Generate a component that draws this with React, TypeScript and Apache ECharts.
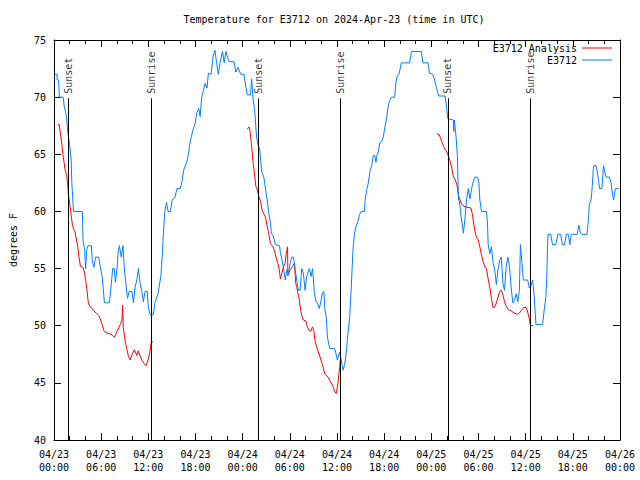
import React, { useEffect, useRef } from "react";
import * as echarts from "echarts";

const FONT = "'DejaVu Sans Mono', 'Liberation Mono', monospace";

const chartTitle = "Temperature for E3712 on 2024-Apr-23 (time in UTC)";
const obsName = "E3712";
const anaName = "E3712 Analysis";

// hours since 2024-04-23 00:00 UTC, temperature (F)
const observed: number[][] = [
  [0.04,72],[0.38,72],[0.40,71.5],[0.59,71.5],[0.62,71],[0.67,71],[0.69,70],[1.17,70],[1.30,69.2],[1.51,68.6],[1.64,68],[1.72,67.1],[1.85,66.5],[2.01,65.7],[2.18,64.5],[2.27,62.5],[2.48,60],[3.61,60],[3.69,57.5],[3.90,56.6],[4.03,55],[4.15,56.6],[4.32,57],[4.75,57],[4.87,55.7],[5.07,55.1],[5.29,56],[5.70,56],[5.92,55],[6.13,54.3],[6.33,52.7],[6.42,52],[7.05,52],[7.26,53.4],[7.46,55],[7.68,55],[7.80,53.8],[8.02,55],[8.14,56.3],[8.31,57],[8.56,56],[8.77,57],[8.94,55.1],[9.19,53.4],[9.35,52.4],[9.57,53],[9.91,53],[10.11,52],[10.32,53.4],[10.54,54],[10.74,55],[10.95,53.7],[11.17,53],[11.37,52.1],[11.58,53],[11.87,53],[12.00,51.6],[12.21,51],[12.63,51],[12.84,52],[13.26,52.9],[13.60,54.4],[13.76,56],[13.94,58.4],[14.10,60],[14.31,60.8],[14.51,60],[14.82,60],[15.02,61],[15.36,61.2],[15.65,62],[16.07,62],[16.28,62.6],[16.49,63.6],[16.70,64],[16.91,64.4],[17.12,65.1],[17.25,65.8],[17.46,66.5],[17.66,67.1],[17.96,67.7],[18.16,68.6],[18.42,69],[18.59,68.3],[18.79,70],[19.01,70.6],[19.22,71.2],[19.47,70.8],[19.64,72.1],[19.98,72],[20.27,73.7],[20.48,74.1],[20.68,73],[20.90,72],[21.11,73],[21.44,74],[21.65,73],[21.87,74],[22.07,73.5],[22.28,73.1],[22.91,73.1],[23.12,72.2],[23.41,72.6],[23.75,72],[24.17,72],[24.38,71],[24.58,70.2],[25.01,70.2],[25.14,71.6],[25.30,70],[25.52,68.9],[25.77,66.5],[25.97,65.8],[26.18,65.4],[26.40,63.5],[26.69,63],[26.90,62],[27.10,61.1],[27.31,59.9],[27.53,59],[27.65,58.1],[27.86,57.9],[28.03,57.5],[28.16,57.1],[28.70,57],[28.79,56.4],[28.99,55.8],[29.20,55],[29.42,54],[29.62,54.9],[29.83,54.6],[30.05,55.5],[30.25,56],[30.46,56],[30.68,54.9],[30.88,54],[31.09,53.1],[31.31,53.1],[31.51,55],[31.72,54.6],[31.94,53.1],[32.14,54.3],[32.48,55],[32.69,54.3],[32.89,55],[33.11,53],[33.32,52.1],[33.52,52],[33.74,51.5],[33.95,52.1],[34.15,52.9],[34.33,53],[34.45,51.5],[34.66,50.6],[34.78,49],[35.08,48],[35.71,48],[35.92,47.4],[36.04,47],[36.34,47.7],[36.54,47],[36.76,46.1],[36.97,46.6],[37.17,47.6],[37.39,49.3],[37.60,50.6],[37.80,53.1],[38.02,56.5],[38.23,58.1],[38.43,58.7],[38.65,59.1],[38.86,59.7],[39.06,60],[39.49,60],[39.56,60.9],[39.78,61.9],[39.99,62.5],[40.19,63.5],[40.41,64],[40.62,64.9],[40.82,64.9],[40.95,64.3],[41.08,64.9],[41.25,65.2],[41.45,66],[41.67,66.1],[41.88,66.5],[42.08,67.3],[42.30,68.1],[42.51,69.2],[42.71,69.7],[42.93,70],[43.34,70],[43.47,71.2],[43.68,71.9],[43.89,72],[44.18,73],[45.23,73],[45.48,74],[46.74,74],[46.92,73],[47.58,73],[47.75,72.1],[48.17,72],[48.38,71.6],[48.59,71],[48.93,70.1],[49.76,70.1],[49.97,68.9],[50.10,68.1],[50.82,68],[50.86,67],[50.92,68],[51.15,66.5],[51.32,64.8],[51.45,61],[51.57,60.9],[51.78,59.6],[52.08,58.1],[52.28,59.4],[52.49,61.1],[52.70,62],[52.91,61.1],[53.12,62],[53.34,62.6],[53.54,63],[53.88,63],[54.04,62.6],[54.17,61],[54.38,60],[55.01,60],[55.14,59],[55.23,57.1],[55.43,56.3],[55.64,56.9],[55.86,55.5],[56.06,54.9],[56.27,53.6],[56.48,54.9],[56.69,55.7],[56.90,56],[57.11,53.7],[57.31,53.1],[57.53,55.2],[57.74,56],[57.94,55.2],[58.16,53.3],[58.37,52],[58.57,52.2],[58.79,52.8],[59.00,52.1],[59.20,53.1],[59.33,57.1],[59.50,55.7],[59.71,54],[60.26,54],[60.46,53.3],[60.68,53.5],[60.89,54],[61.09,52.5],[61.31,50.1],[62.15,50.1],[62.36,51.4],[62.57,52.5],[62.69,54.4],[62.78,56.8],[62.85,58],[63.19,58],[63.41,57.1],[63.82,57.1],[64.11,58],[64.45,58],[64.67,57.1],[64.95,57.1],[65.17,58],[65.42,58],[65.62,57.1],[65.80,58],[66.56,58],[66.76,58.8],[66.97,58.1],[67.18,58],[67.81,58],[68.02,59.6],[68.10,60.6],[68.32,61],[68.44,61.9],[68.57,63.3],[68.64,64],[68.95,64],[69.07,63.6],[69.27,62.7],[69.40,62],[69.70,62],[69.83,63.2],[69.90,64],[70.12,63.3],[70.24,63],[70.66,63],[70.86,62.5],[71.06,61.4],[71.19,61],[71.40,62],[71.82,62]
];

const analysisNight1: number[][] = [
  [0.47,67.6],[0.67,67.6],[0.76,67.1],[0.88,66.5],[1.01,65.8],[1.17,64.8],[1.30,64.2],[1.42,63.6],[1.60,63.2],[1.72,62.5],[1.85,61.4],[2.01,60.6],[2.18,59.7],[2.35,58.8],[2.52,58.4],[2.68,58.2],[2.86,57.5],[3.02,56.9],[3.18,56],[3.36,55.2],[3.69,55.1],[3.86,54.7],[4.03,54],[4.19,53.1],[4.37,52],[4.53,51.7],[4.87,51.5],[5.20,51.2],[5.38,51.1],[5.70,50.9],[5.92,50.5],[6.13,50.1],[6.33,49.6],[6.55,49.4],[7.05,49.3],[7.39,49.2],[7.68,49],[8.02,49.5],[8.43,50.1],[8.65,50.5],[8.72,51.8],[8.81,49.9],[9.06,48.6],[9.28,47.9],[9.48,47.3],[9.69,47.0],[9.94,47.5],[10.23,47.9],[10.54,47.4],[10.70,47.8],[11.17,47.0],[11.46,46.7],[11.71,46.5],[11.96,47],[12.21,47.7],[12.34,48.5],[12.59,48.6]
];

const analysisNight2: number[][] = [
  [24.58,67.2],[24.80,67.4],[24.92,67.1],[25.09,66.1],[25.21,65.2],[25.34,64.2],[25.52,63.2],[25.68,62.2],[25.85,61.9],[26.06,61.3],[26.27,60.9],[26.47,60.1],[26.69,59.8],[26.90,59.5],[27.10,58.8],[27.31,58.1],[27.53,57.2],[27.86,56.9],[28.03,56.6],[28.24,56],[28.45,55.5],[28.66,54.9],[28.79,54.1],[28.99,54.6],[29.20,55.2],[29.42,55.5],[29.54,56.3],[29.71,56.9],[29.75,54.4],[30.05,54.9],[30.38,55.2],[30.59,55.5],[30.75,53.7],[30.88,53.4],[30.97,53],[31.18,52.4],[31.31,51.7],[31.51,50.9],[31.72,50.5],[32.06,50.4],[32.23,49.9],[32.44,49.6],[32.64,49.5],[32.89,49.9],[33.07,49.5],[33.19,48.7],[33.48,48],[33.82,47.3],[34.15,46.6],[34.45,45.8],[34.87,45.5],[35.16,45.1],[35.50,44.7],[35.71,44.2],[35.92,44.1],[36.13,45],[36.25,45.8],[36.34,46.4],[36.42,47]
];

const analysisNight3: number[][] = [
  [48.72,66.8],[49.01,66.7],[49.13,66.5],[49.34,66.1],[49.56,65.7],[49.76,65.4],[49.97,65.2],[50.19,64.8],[50.39,64.4],[50.60,63.8],[50.82,63],[51.02,62.8],[51.24,62.4],[51.45,61.4],[51.65,61],[51.86,60.6],[52.28,60.4],[53.04,60.3],[53.21,59.8],[53.42,58.8],[53.54,58.3],[53.76,57.7],[53.97,57.5],[54.17,56.9],[54.38,56.2],[54.59,55.6],[54.80,55.2],[55.01,55],[55.23,54.1],[55.43,53.4],[55.64,52.4],[55.86,51.6],[56.06,51.6],[56.27,52],[56.48,52.5],[56.69,53],[56.90,53.1],[57.11,52.7],[57.31,52.1],[57.53,51.7],[57.82,51.4],[58.16,51.3],[58.57,51.1],[59.00,51],[59.20,51.1],[59.42,51.3],[59.76,51.6],[60.05,51.6],[60.26,51.2],[60.46,50.6],[60.59,50.1],[60.68,50],[60.97,50]
];

const sunEventHours = [1.80, 12.42, 25.97, 36.42, 50.10, 60.59];
const sunEventNames = ["Sunset", "Sunrise", "Sunset", "Sunrise", "Sunset", "Sunrise"];

const yTicks = { min: 40, max: 75, step: 5 };
const xTicks = { min: 0, max: 72, step: 6 };

const RED = "#ff0000";
const BLUE = "#0080ff";

function xLabel(v: number): string {
  const day = 23 + Math.floor(v / 24);
  const hr = v % 24;
  return `04/${day}\n${String(hr).padStart(2, "0")}:00`;
}

export default function App() {
  const ref = useRef<HTMLDivElement>(null);
  useEffect(() => {
    const chart = echarts.init(ref.current!, null, { renderer: "svg" });
    const txt = { fontFamily: FONT, fontSize: 10, color: "#000" };
    const axisCommonX = {
      type: "value",
      min: xTicks.min,
      max: xTicks.max,
      interval: xTicks.step,
      axisLine: { show: true, onZero: false, lineStyle: { color: "#000", width: 1 } },
      axisTick: { show: true, inside: true, length: 7, lineStyle: { color: "#000", width: 1 } },
      minorTick: { show: true, splitNumber: 3, length: 4, lineStyle: { color: "#000", width: 1 } },
      splitLine: { show: false },
      minorSplitLine: { show: false },
    };
    const axisCommonY = {
      type: "value",
      min: yTicks.min,
      max: yTicks.max,
      interval: yTicks.step,
      axisLine: { show: true, onZero: false, lineStyle: { color: "#000", width: 1 } },
      axisTick: { show: true, inside: true, length: 7, lineStyle: { color: "#000", width: 1 } },
      splitLine: { show: false },
    };
    const lineSeries = (name: string, data: number[][], color: string, extra: any = {}) => ({
      type: "line",
      name,
      data,
      showSymbol: false,
      symbol: "none",
      lineStyle: { color, width: 1 },
      itemStyle: { color },
      emphasis: { disabled: true },
      silent: true,
      ...extra,
    });
    const legendCommon = {
      right: 28,
      orient: "vertical",
      align: "right",
      icon: "rect",
      itemWidth: 30,
      itemHeight: 1,
      padding: 0,
      textStyle: txt,
      selectedMode: false,
    };
    const option: any = {
      animation: false,
      backgroundColor: "#fff",
      title: {
        text: chartTitle,
        left: 334,
        textAlign: "center",
        top: 14,
        padding: 0,
        textStyle: { ...txt, fontWeight: "normal" },
      },
      legend: [
        { ...legendCommon, data: [anaName], top: 43 },
        { ...legendCommon, data: [obsName], top: 55 },
      ],
      grid: { left: 48, right: 20, top: 40, bottom: 40, containLabel: false },
      xAxis: [
        {
          ...axisCommonX,
          position: "bottom",
          axisLabel: { ...txt, formatter: xLabel, lineHeight: 13, margin: 8, showMaxLabel: true, showMinLabel: true },
        },
        {
          ...axisCommonX,
          position: "top",
          axisLabel: { show: false },
        },
      ],
      yAxis: [
        {
          ...axisCommonY,
          position: "left",
          name: "degrees F",
          nameLocation: "middle",
          nameRotate: 90,
          nameGap: 36,
          nameTextStyle: txt,
          axisLabel: { ...txt, margin: 8 },
        },
        {
          ...axisCommonY,
          position: "right",
          axisLabel: { show: false },
        },
      ],
      series: [
        lineSeries(anaName, analysisNight1, RED),
        lineSeries(anaName, analysisNight2, RED),
        lineSeries(anaName, analysisNight3, RED),
        lineSeries(obsName, observed, BLUE, {
          markLine: {
            silent: true,
            symbol: ["none", "none"],
            label: { show: false },
            lineStyle: { color: "#000", width: 1, type: "solid" },
            emphasis: { disabled: true },
            data: sunEventHours.map((t) => [{ coord: [t, yTicks.min] }, { coord: [t, 69.9] }]),
          },
        }),
        {
          type: "scatter",
          name: "sun",
          silent: true,
          symbolSize: 1,
          itemStyle: { color: "rgba(0,0,0,0)" },
          emphasis: { disabled: true },
          data: sunEventHours.map((t, i) => ({ value: [t, 70.3], name: sunEventNames[i] })),
          label: {
            show: true,
            formatter: "{b}",
            position: "inside",
            rotate: 90,
            align: "left",
            verticalAlign: "middle",
            ...txt,
          },
        },
      ],
    };
    chart.setOption(option);
    return () => chart.dispose();
  }, []);
  return (
    <div
      ref={ref}
      style={{ position: "fixed", left: 0, top: 0, width: 640, height: 480, background: "#fff" }}
    />
  );
}
